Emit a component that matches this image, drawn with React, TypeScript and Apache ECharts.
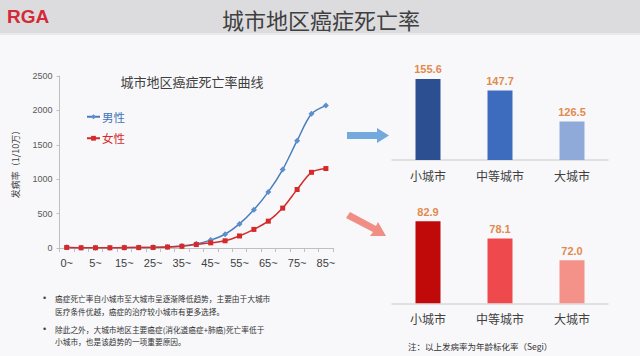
import React, { useEffect, useRef } from "react";
import * as echarts from "echarts";

const ageGroups = ["0~", "1~", "5~", "10~", "15~", "20~", "25~", "30~", "35~", "40~", "45~", "50~", "55~", "60~", "65~", "70~", "75~", "80~", "85~"];
const maleRates = [10, 3, 3, 4, 6, 8, 10, 15, 30, 60, 115, 200, 350, 555, 815, 1140, 1560, 1950, 2070];
const femaleRates = [8, 3, 3, 3, 5, 6, 8, 14, 25, 50, 75, 105, 175, 270, 390, 580, 850, 1100, 1155];
const yTicks = [0, 500, 1000, 1500, 2000, 2500];

const cityTypes = ["小城市", "中等城市", "大城市"];
const maleCityRates = [155.6, 147.7, 126.5];
const femaleCityRates = [82.9, 78.1, 72.0];
const maleBarColors = ["#2b4f91", "#3d6cbf", "#8faad9"];
const femaleBarColors = ["#c00a0a", "#ee4a4d", "#f4928a"];

const bullets = [
  ["癌症死亡率自小城市至大城市呈逐渐降低趋势，主要由于大城市", "医疗条件优越，癌症的治疗较小城市有更多选择。"],
  ["除此之外，大城市地区主要癌症(消化道癌症+肺癌)死亡率低于", "小城市，也是该趋势的一项重要原因。"],
];

const CJK = '"Noto Sans CJK SC", "Noto Sans", sans-serif';
const LAT = '"Liberation Sans", Arial, sans-serif';

export default function App() {
  const ref = useRef<HTMLDivElement>(null);
  useEffect(() => {
    if (!ref.current) return;
    const chart = echarts.init(ref.current, undefined, { renderer: "svg" });

    const bulletGraphics: any[] = [];
    const lineYs = [[298, 311], [329, 341]];
    bullets.forEach((b, i) => {
      bulletGraphics.push({
        type: "text", x: 43, y: lineYs[i][0], z: 10,
        style: { text: "•", fill: "#404040", font: `9px ${LAT}`, verticalAlign: "middle" },
      });
      b.forEach((ln, j) => {
        bulletGraphics.push({
          type: "text", x: 55, y: lineYs[i][j], z: 10,
          style: { text: ln, fill: "#333", font: `7.7px ${CJK}`, verticalAlign: "middle" },
        });
      });
    });

    const barSeries = (vals: number[], colors: string[], idx: number, name: string) => ({
      type: "bar", name, xAxisIndex: idx, yAxisIndex: idx,
      barWidth: 25,
      data: vals.map((v, k) => ({ value: v, itemStyle: { color: colors[k] } })),
      label: {
        show: true, position: "top", distance: 4, color: "#e28a4e",
        fontSize: 11, fontWeight: "bold", fontFamily: LAT,
        formatter: (p: any) => Number(p.value).toFixed(1),
      },
    });

    const barX = (idx: number) => ({
      type: "category", gridIndex: idx, data: cityTypes,
      axisLine: { lineStyle: { color: "#d9d9d9", width: 1.5 } },
      axisTick: { show: false },
      axisLabel: { color: "#404040", fontSize: 12, fontFamily: CJK, margin: 9 },
    });

    chart.setOption({
      animation: false,
      backgroundColor: "#f8f8fa",
      graphic: [
        { type: "rect", shape: { x: 0, y: 0, width: 640, height: 33 }, style: { fill: "#dcdcde" }, z: 1 },
        { type: "rect", shape: { x: 0, y: 33, width: 640, height: 2 }, style: { fill: "#e9e9eb" }, z: 1 },
        { type: "text", x: 7, y: 16, z: 5,
          style: { text: "RGA", fill: "#d42a35", font: `bold 19px ${LAT}`, verticalAlign: "middle" } },
        { type: "text", x: 321, y: 19, z: 5,
          style: { text: "城市地区癌症死亡率", fill: "#404040", font: `22px ${CJK}`, align: "center", verticalAlign: "middle" } },
        { type: "text", x: 192, y: 81, z: 5,
          style: { text: "城市地区癌症死亡率曲线", fill: "#404040", font: `13px ${CJK}`, align: "center", verticalAlign: "middle" } },
        { type: "polygon", z: 5,
          shape: { points: [[347, 132], [377, 132], [377, 128], [389, 135.5], [377, 143], [377, 139], [347, 139]] },
          style: { fill: "#74a9de" } },
        { type: "polygon", z: 5,
          shape: { points: [[346, 218], [350, 212], [376, 226], [378, 222], [386, 236], [370, 236], [373, 232]] },
          style: { fill: "#f08d84" } },
        { type: "text", x: 408, y: 346, z: 5,
          style: { text: "注：以上发病率为年龄标化率（Segi）", fill: "#333", font: `8.5px ${CJK}`, verticalAlign: "middle" } },
        ...bulletGraphics,
      ],
      legend: {
        orient: "vertical", left: 86, top: 111, itemGap: 10, itemWidth: 13, itemHeight: 6,
        padding: 0,
        textStyle: { fontSize: 11.5, fontFamily: CJK, padding: [0, 0, 0, -3] },
        data: [
          { name: "男性", textStyle: { color: "#3f74b8" } },
          { name: "女性", textStyle: { color: "#d42a2a" } },
        ],
      },
      grid: [
        { left: 59.5, top: 76, width: 273.6, height: 172 },
        { left: 392, top: 43.4, width: 216, height: 116.6 },
        { left: 392, top: 178, width: 216, height: 125.3 },
      ],
      xAxis: [
        {
          type: "category", gridIndex: 0, data: ageGroups, boundaryGap: true,
          axisLine: { lineStyle: { color: "#bfbfbf" } },
          axisTick: { show: true, interval: 0, length: 4, lineStyle: { color: "#bfbfbf" } },
          axisLabel: { interval: 1, color: "#404040", fontSize: 11, fontFamily: LAT, margin: 9 },
        },
        barX(1),
        barX(2),
      ],
      yAxis: [
        {
          type: "value", gridIndex: 0, min: 0, max: yTicks[yTicks.length - 1], interval: 500,
          name: "发病率（1/10万）", nameLocation: "middle", nameGap: 40,
          nameTextStyle: { fontSize: 9, color: "#404040", fontFamily: CJK },
          axisLine: { show: true, lineStyle: { color: "#bfbfbf" } },
          axisTick: { show: true, length: 3, lineStyle: { color: "#bfbfbf" } },
          splitLine: { show: false },
          axisLabel: { color: "#595959", fontSize: 9, fontFamily: LAT, margin: 7, formatter: (v: number) => String(v) },
        },
        { type: "value", gridIndex: 1, min: 100, max: 180, show: false },
        { type: "value", gridIndex: 2, min: 60, max: 95, show: false },
      ],
      series: [
        {
          type: "line", name: "男性", xAxisIndex: 0, yAxisIndex: 0, data: maleRates,
          smooth: 0.3, symbol: "diamond", symbolSize: 6,
          lineStyle: { color: "#4a7ebb", width: 1.5 },
          itemStyle: { color: "#5b8fce" },
        },
        {
          type: "line", name: "女性", xAxisIndex: 0, yAxisIndex: 0, data: femaleRates,
          smooth: 0.3, symbol: "rect", symbolSize: 5,
          lineStyle: { color: "#d42a2a", width: 1.5 },
          itemStyle: { color: "#d42a2a" },
        },
        barSeries(maleCityRates, maleBarColors, 1, "城市男性"),
        barSeries(femaleCityRates, femaleBarColors, 2, "城市女性"),
      ],
    });
    return () => chart.dispose();
  }, []);
  return (
    <div style={{ position: "absolute", left: 0, top: 0, width: 640, height: 356 }}>
      <div ref={ref} style={{ width: 640, height: 356 }} />
    </div>
  );
}
